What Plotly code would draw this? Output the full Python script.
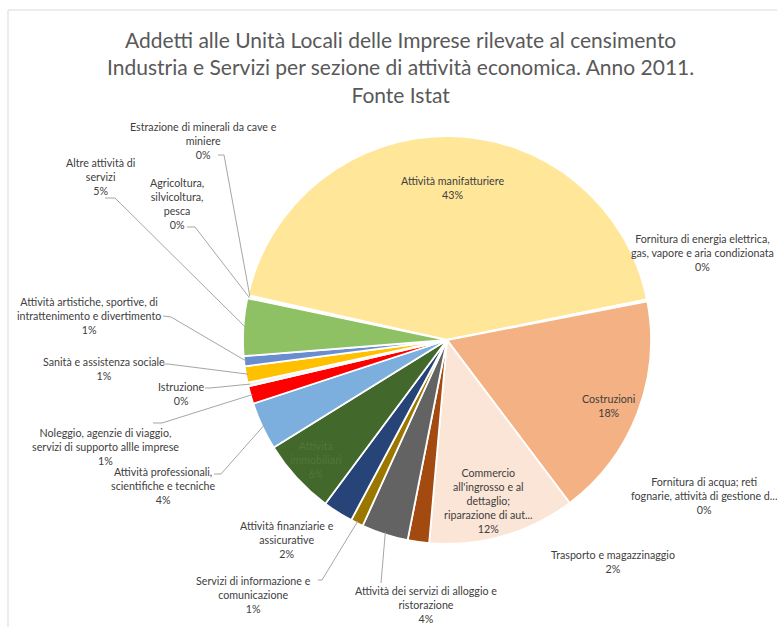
import math
import plotly.graph_objects as go

# Sezioni di attività economica (ATECO), nell'ordine del grafico
categorie = [
    "Agricoltura, silvicoltura, pesca",
    "Estrazione di minerali da cave e miniere",
    "Attività manifatturiere",
    "Fornitura di energia elettrica, gas, vapore e aria condizionata",
    "Fornitura di acqua; reti fognarie, attività di gestione dei rifiuti e risanamento",
    "Costruzioni",
    "Commercio all'ingrosso e al dettaglio; riparazione di autoveicoli e motocicli",
    "Trasporto e magazzinaggio",
    "Attività dei servizi di alloggio e ristorazione",
    "Servizi di informazione e comunicazione",
    "Attività finanziarie e assicurative",
    "Attività immobiliari",
    "Attività professionali, scientifiche e tecniche",
    "Noleggio, agenzie di viaggio, servizi di supporto allle imprese",
    "Istruzione",
    "Sanità e assistenza sociale",
    "Attività artistiche, sportive, di intrattenimento e divertimento",
    "Altre attività di servizi",
]

# Quota di addetti per sezione (%)
quote = [0.15, 0.10, 43.4, 0.08, 0.08, 17.8, 11.7, 1.7, 3.7, 1.0,
         2.4, 6.0, 3.8, 1.4, 0.3, 1.3, 0.8, 4.55]

# Etichette come appaiono nel grafico (a capo inclusi)
etichette = [
    "Agricoltura,<br>silvicoltura,<br>pesca",
    "Estrazione di minerali da cave e<br>miniere",
    "Attività manifatturiere",
    "Fornitura di energia elettrica,<br>gas, vapore e aria condizionata",
    "Fornitura di acqua; reti<br>fognarie, attività di gestione d...",
    "Costruzioni",
    "Commercio<br>all'ingrosso e al<br>dettaglio;<br>riparazione di aut...",
    "Trasporto e magazzinaggio",
    "Attività dei servizi di alloggio e<br>ristorazione",
    "Servizi di informazione e<br>comunicazione",
    "Attività finanziarie e<br>assicurative",
    "Attività<br>immobiliari",
    "Attività professionali,<br>scientifiche e tecniche",
    "Noleggio, agenzie di viaggio,<br>servizi di supporto allle imprese",
    "Istruzione",
    "Sanità e assistenza sociale",
    "Attività artistiche, sportive, di<br>intrattenimento e divertimento",
    "Altre attività di<br>servizi",
]

colori = [
    "#5B9BD5", "#A5A5A5", "#FFE699", "#FFFFFF", "#FFFFFF", "#F4B183",
    "#FBE5D6", "#A34A10", "#636363", "#9C7700", "#264478", "#43682B",
    "#7CAFDD", "#FF0000", "#F2F2F2", "#FFC000", "#698ED0", "#8DC164",
]

# ---- layout (pixels) ----
W, H = 777, 627
CX, CY, R = 447, 340, 204
START = 281.8  # angolo di partenza della prima fetta (gradi, orario da ore 12)


def px(x):
    return x / W


def py(y):
    return 1 - y / H


# posizione del centro di ogni etichetta (pixel) e colore del testo
pos_etichette = [
    (177, 204), (203, 141), (453, 188), (702, 253), (704, 495),
    (608, 405), (488, 500), (613, 561), (426, 604), (254, 594),
    (287, 539), (316, 459), (163, 485), (106, 447), (181, 393),
    (104, 368), (89, 315), (100, 176),
]
colore_testo = ["#404040"] * len(categorie)
colore_testo[11] = "#52773A"

# linee guida: indice fetta -> punti (pixel) di partenza e gomito
guide = {
    0: [(187, 227), (195, 227)],
    1: [(218, 155), (224, 155)],
    8: [(381, 583), (381, 583)],
    9: [(318, 580), (322, 580)],
    12: [(214, 474), (221, 474)],
    13: [(153, 423), (162, 423)],
    14: [(205, 388), (210, 388)],
    15: [(163, 364), (168, 364)],
    16: [(163, 316), (171, 317)],
    17: [(105, 198), (115, 198)],
}

totale = sum(quote)
percentuali = [round(v / totale * 100) for v in quote]

# angolo medio di ogni fetta
angoli_medi = []
acc = START
for v in quote:
    span = 360 * v / totale
    angoli_medi.append(acc + span / 2)
    acc += span

fig = go.Figure()
fig.add_trace(go.Pie(
    labels=categorie,
    values=quote,
    sort=False,
    direction="clockwise",
    rotation=START,
    marker=dict(colors=colori, line=dict(color="white", width=1.8)),
    textinfo="none",
    hoverinfo="label+percent",
    showlegend=False,
    domain=dict(x=[px(CX - R), px(CX + R)], y=[py(CY + R), py(CY - R)]),
))

annotazioni = []
for i, (lab, (x, y)) in enumerate(zip(etichette, pos_etichette)):
    annotazioni.append(dict(
        x=px(x), y=py(y), xref="paper", yref="paper",
        text=f"{lab}<br>{percentuali[i]}%",
        showarrow=False, xanchor="center", yanchor="middle", align="center",
        font=dict(family="Lato, sans-serif", size=10.7, color=colore_testo[i]),
    ))

annotazioni.append(dict(
    x=px(400), y=py(67), xref="paper", yref="paper",
    text=("Addetti alle Unità Locali delle Imprese rilevate al censimento<br>"
          "Industria e Servizi per sezione di attività economica. Anno 2011.<br>"
          "Fonte Istat"),
    showarrow=False, xanchor="center", yanchor="middle", align="center",
    font=dict(family="Lato, sans-serif", size=21, color="#595959"),
))

forme = [dict(
    type="rect", xref="paper", yref="paper",
    x0=px(8), x1=1.2, y0=-0.2, y1=py(10),
    line=dict(color="#D9D9D9", width=1), fillcolor="rgba(0,0,0,0)",
)]

for i, punti in guide.items():
    a = math.radians(angoli_medi[i])
    ex = CX + R * 0.99 * math.sin(a)
    ey = CY - R * 0.99 * math.cos(a)
    pts = punti + [(ex, ey)]
    path = "M " + " L ".join(f"{px(x):.5f},{py(y):.5f}" for x, y in pts)
    forme.append(dict(type="path", xref="paper", yref="paper", path=path,
                      line=dict(color="#A6A6A6", width=1)))

fig.update_layout(
    width=W, height=H,
    margin=dict(l=0, r=0, t=0, b=0),
    paper_bgcolor="white",
    plot_bgcolor="white",
    annotations=annotazioni,
    shapes=forme,
)

fig.write_html("out.html")
